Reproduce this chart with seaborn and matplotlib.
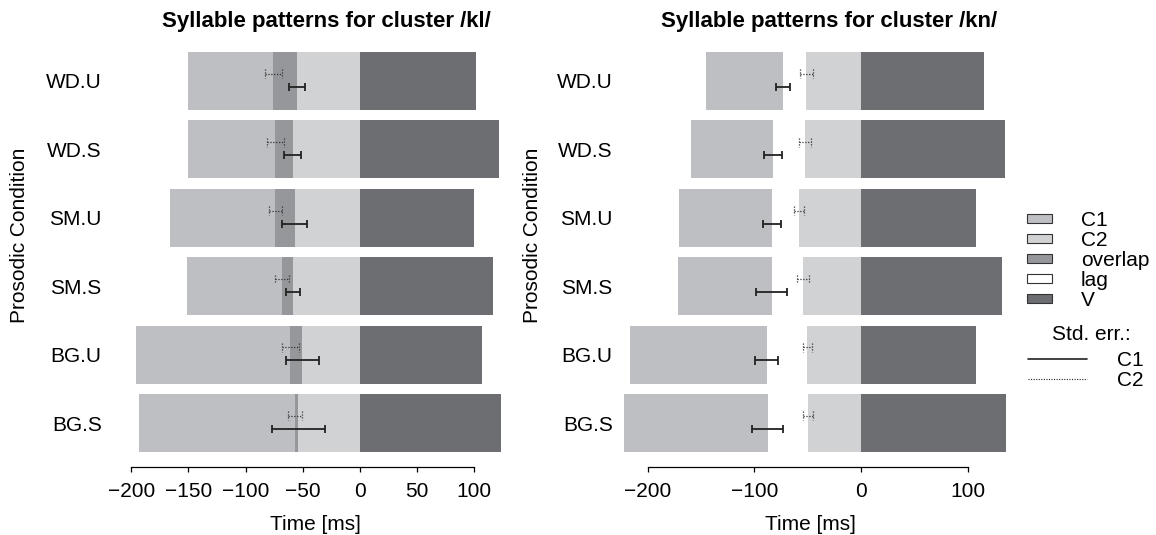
import matplotlib.pyplot as plt
import matplotlib.patches as mpatches
import matplotlib.lines as mlines
import numpy as np
import pandas as pd
import seaborn as sns

# conditions, top to bottom
conditions = ["WD.U", "WD.S", "SM.U", "SM.S", "BG.U", "BG.S"]

# /kl/ : times in ms relative to vowel onset
kl_c1_on = [-150, -150, -166, -151, -196, -193]
kl_c1_off = [-55, -59, -57, -58.5, -50.5, -54]
kl_c2_on = [-76, -74, -74, -68.5, -61, -57]
kl_v_off = [101, 121.5, 100, 116, 106.5, 123]
kl_c1_se = [6.9, 7.5, 11, 6.3, 14.5, 23.3]
kl_c2_se = [7.4, 7.2, 5.9, 6.1, 7.3, 6.0]

# /kn/
kn_c1_on = [-145, -159, -170.5, -171.5, -216.5, -222]
kn_c1_off = [-73, -82.5, -83.5, -83.5, -88.5, -87.5]
kn_c2_on = [-51.5, -52.5, -58, -54.5, -50.5, -49.5]
kn_v_off = [115, 135, 108, 132, 108, 136]
kn_c1_se = [6.9, 8.2, 8.3, 14.5, 10.9, 14.2]
kn_c2_se = [6.1, 5.8, 4.6, 5.7, 4.2, 4.4]

col_c1 = "#bebfc2"
col_c2 = "#d1d2d4"
col_ov = "#96979a"
col_lag = "#ffffff"
col_v = "#6d6e72"

sns.set_style("white")
plt.rcParams["font.family"] = ["Liberation Sans", "DejaVu Sans"]
plt.rcParams["text.color"] = "black"
plt.rcParams["axes.labelcolor"] = "black"
plt.rcParams["xtick.color"] = "black"
plt.rcParams["ytick.color"] = "black"
FS = 15

W, H = 1156, 535
fig = plt.figure(figsize=(W / 100, H / 100), dpi=100)


def fx(px):
    return px / W


def fy(py):
    return 1 - py / H


def draw_panel(ax, c1_on, c1_off, c2_on, v_off, c1_se, c2_se):
    df = pd.DataFrame({"condition": conditions, "c1_on": c1_on, "c1_off": c1_off,
                       "c2_on": c2_on, "v_off": v_off})
    df["mid"] = df[["c1_off", "c2_on"]].min(axis=1)
    df["top"] = df[["c1_off", "c2_on"]].max(axis=1)
    mid_pal = {c: (col_ov if a < b else col_lag)
               for c, a, b in zip(conditions, c2_on, c1_off)}
    kw = dict(y="condition", order=conditions, orient="h", width=0.85,
              linewidth=0, saturation=1, errorbar=None, ax=ax)
    # layered bars, each drawn from 0
    sns.barplot(data=df, x="v_off", color=col_v, **kw)
    sns.barplot(data=df, x="c1_on", color=col_c1, **kw)
    sns.barplot(data=df, x="mid", hue="condition", hue_order=conditions,
                palette=mid_pal, legend=False, **kw)
    sns.barplot(data=df, x="top", color=col_c2, **kw)

    pos = np.arange(len(conditions))
    # std. err. of C2 onset (dotted)
    c = np.array(c2_on)
    s = np.array(c2_se)
    y = pos - 0.105
    ax.hlines(y, c - s, c + s, colors="#333333", linestyles=(0, (1, 1.3)), lw=0.9, zorder=3)
    ax.vlines(np.r_[c - s, c + s], np.r_[y, y] - 0.065, np.r_[y, y] + 0.065,
              colors="#333333", linestyles=(0, (1, 1.3)), lw=0.9, zorder=3)
    # std. err. of C1 offset (solid)
    c = np.array(c1_off)
    s = np.array(c1_se)
    y = pos + 0.085
    ax.hlines(y, c - s, c + s, colors="#222222", lw=1.3, zorder=3)
    ax.vlines(np.r_[c - s, c + s], np.r_[y, y] - 0.06, np.r_[y, y] + 0.06,
              colors="#222222", lw=1.3, zorder=3)

    ax.set_ylim(5.643, -0.526)
    for side in ["top", "right", "left"]:
        ax.spines[side].set_visible(False)
    ax.spines["bottom"].set_bounds(-200, 100)
    ax.spines["bottom"].set_color("black")
    ax.spines["bottom"].set_linewidth(0.9)
    ax.tick_params(axis="y", length=0, pad=6, labelsize=FS)
    ax.tick_params(axis="x", direction="out", length=3.6, width=0.9, pad=7,
                   labelsize=FS, bottom=True, color="black")
    ax.set_xlabel("Time [ms]", fontsize=FS)
    ax.set_ylabel("Prosodic Condition", fontsize=FS)


# left panel
ax1 = fig.add_axes([fx(110), fy(467), fx(530) - fx(110), fy(45) - fy(467)])
draw_panel(ax1, kl_c1_on, kl_c1_off, kl_c2_on, kl_v_off, kl_c1_se, kl_c2_se)
ax1.set_xlim((110 - 360) / 1.144, (530 - 360) / 1.144)
ax1.set_xticks([-200, -150, -100, -50, 0, 50, 100])
ax1.set_xticklabels(["\u2212200", "\u2212150", "\u2212100", "\u221250", "0", "50", "100"])

# right panel
ax2 = fig.add_axes([fx(621), fy(467), fx(1019) - fx(621), fy(45) - fy(467)])
draw_panel(ax2, kn_c1_on, kn_c1_off, kn_c2_on, kn_v_off, kn_c1_se, kn_c2_se)
ax2.set_xlim((621 - 861) / 1.067, (1019 - 861) / 1.067)
ax2.set_xticks([-200, -100, 0, 100])
ax2.set_xticklabels(["\u2212200", "\u2212100", "0", "100"])

for ax, xc, tc, ylx, title in [(ax1, 315, 326, 20, "Syllable patterns for cluster /kl/"),
                               (ax2, 810, 829, 533, "Syllable patterns for cluster /kn/")]:
    ax.xaxis.set_label_coords(fx(xc), fy(524), transform=fig.transFigure)
    ax.xaxis.label.set_va("center")
    ax.yaxis.set_label_coords(fx(ylx), fy(235), transform=fig.transFigure)
    ax.yaxis.label.set_va("center")
    fig.text(fx(tc), fy(22), title, fontsize=16, fontweight="bold",
             ha="center", va="center")

# legend: segments
leg_labels = ["C1", "C2", "overlap", "lag", "V"]
leg_colors = [col_c1, col_c2, col_ov, col_lag, col_v]
for i, (lab, col) in enumerate(zip(leg_labels, leg_colors)):
    yc = 218 + 20 * i
    fig.add_artist(mpatches.Rectangle((fx(1027), fy(yc + 4.5)), fx(25), 9 / H,
                                      facecolor=col, edgecolor="#333333", lw=0.8,
                                      transform=fig.transFigure))
    fig.text(fx(1081), fy(yc + 7.5), lab, fontsize=FS, ha="left", va="baseline")

# legend: std. err.
fig.text(fx(1052), fy(333 + 7.5), "Std. err.:", fontsize=FS, ha="left", va="baseline")
for lab, yc, ls, lw in [("C1", 359, "-", 1.2), ("C2", 379, (0, (1, 1.3)), 0.8)]:
    fig.add_artist(mlines.Line2D([fx(1028), fx(1087)], [fy(yc), fy(yc)], color="#222222",
                                 lw=lw, linestyle=ls, transform=fig.transFigure))
    fig.text(fx(1117), fy(yc + 7.5), lab, fontsize=FS, ha="left", va="baseline")

fig.savefig("out.png", dpi=100)
